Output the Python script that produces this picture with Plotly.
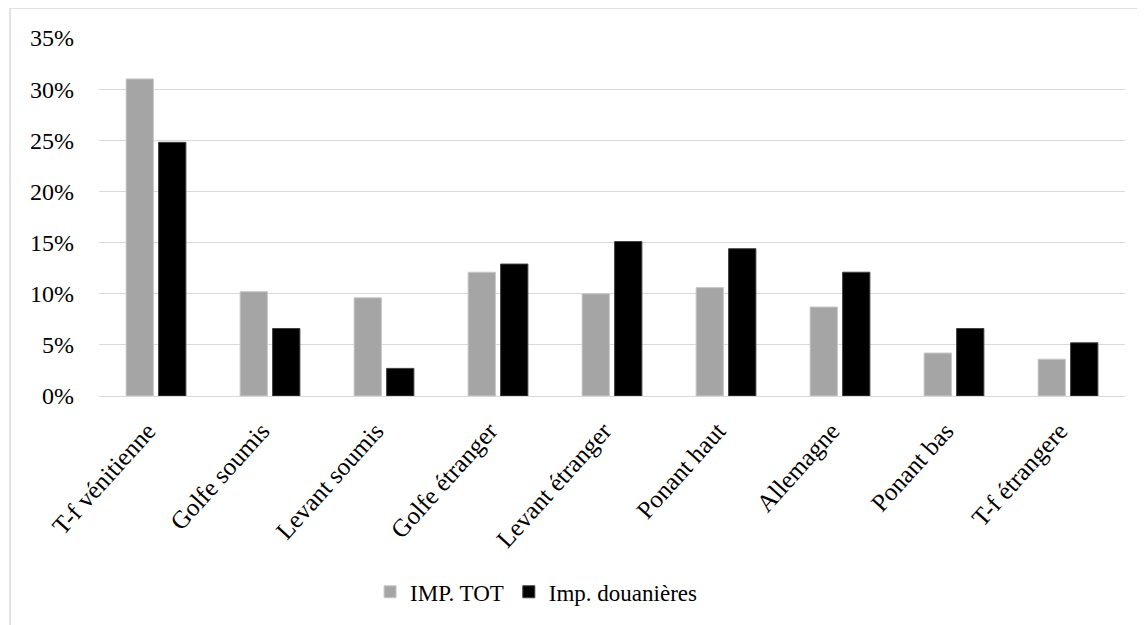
import plotly.graph_objects as go

categories = ["T-f vénitienne", "Golfe soumis", "Levant soumis", "Golfe étranger",
              "Levant étranger", "Ponant haut", "Allemagne", "Ponant bas", "T-f étrangere"]
imp_tot = [0.310, 0.102, 0.096, 0.121, 0.100, 0.106, 0.087, 0.042, 0.036]
imp_douanieres = [0.248, 0.066, 0.027, 0.129, 0.151, 0.144, 0.121, 0.066, 0.052]
y_ticks = [0, 0.05, 0.10, 0.15, 0.20, 0.25, 0.30, 0.35]

font = "Times New Roman, Liberation Serif, serif"

fig = go.Figure()
fig.add_trace(go.Bar(x=categories, y=imp_tot, name="IMP. TOT",
                     marker=dict(color="#A5A5A5", line=dict(color="#C8C8C8", width=1))))
fig.add_trace(go.Bar(x=categories, y=imp_douanieres, name="Imp. douanières",
                     marker=dict(color="#000000", line=dict(color="#404040", width=1))))

# page body has an 8px margin, so the figure is sized to the visible area
fig.update_layout(
    width=1137, height=617,
    margin=dict(l=91, r=20, t=30, b=229),
    paper_bgcolor="white", plot_bgcolor="white",
    barmode="group", bargap=0.43, bargroupgap=0.16,
    font=dict(family=font, size=23, color="#000000"),
    showlegend=True,
    legend=dict(orientation="h", x=0.426, xanchor="center", y=-0.547, yanchor="middle",
                font=dict(family=font, size=23, color="#000000"), itemwidth=30,
                traceorder="normal"),
    xaxis=dict(tickangle=-48, showgrid=False, showline=True, linecolor="#D9D9D9",
               linewidth=1, ticks="",
               tickvals=categories,
               ticktext=[c + "\u00a0\u00a0" for c in categories],  # nudge labels like Excel
               tickfont=dict(family=font, size=25, color="#000000")),
    yaxis=dict(range=[0, 0.35], tickvals=y_ticks, tickformat=".0%",
               showgrid=True, gridcolor="#D9D9D9", gridwidth=1.3, zeroline=False,
               showline=False, ticks="", ticklabelstandoff=24,
               tickfont=dict(family=font, size=24, color="#000000")),
    shapes=[
        dict(type="line", xref="paper", yref="paper", x0=-89 / 1026, x1=1.1,
             y0=1 + 30 / 358, y1=1 + 30 / 358, line=dict(color="#D9D9D9", width=1.5)),
        dict(type="line", xref="paper", yref="paper", x0=-89 / 1026, x1=-89 / 1026,
             y0=1 + 30 / 358, y1=-1, line=dict(color="#D9D9D9", width=1.5)),
    ],
)

fig.write_html("out.html")
